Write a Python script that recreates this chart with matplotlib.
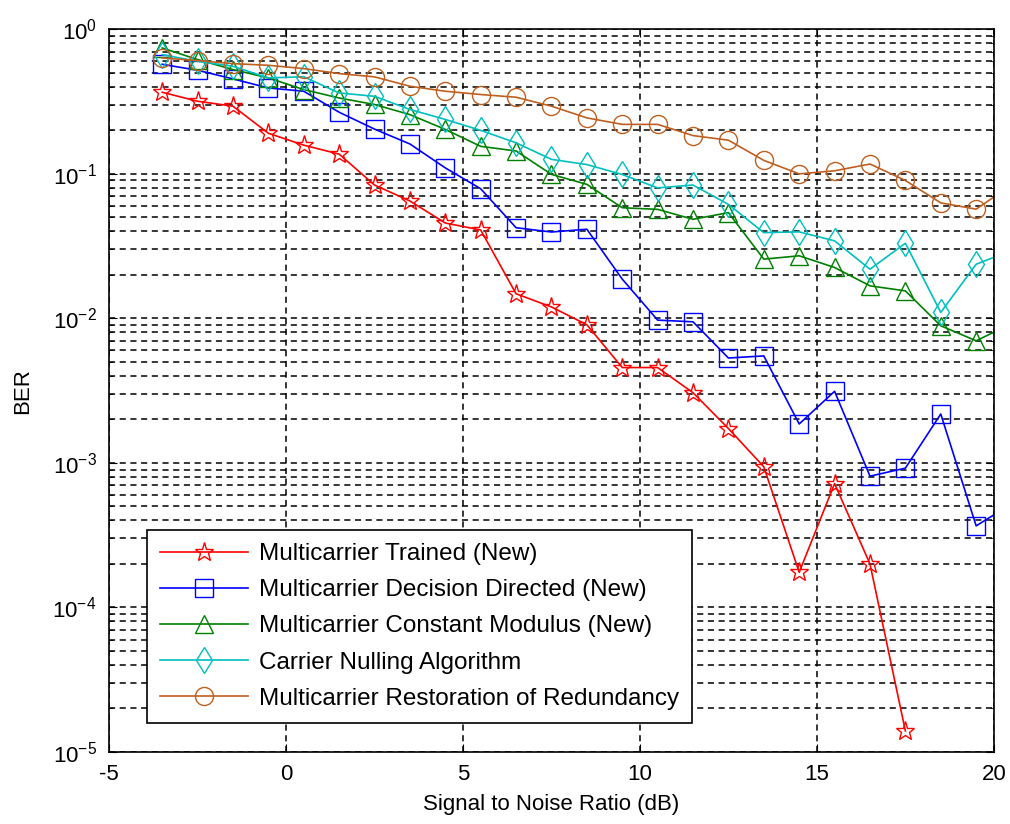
import numpy as np
import matplotlib.pyplot as plt
from matplotlib.ticker import LogLocator, NullFormatter

plt.rcParams['font.family'] = ['Liberation Sans', 'DejaVu Sans']
plt.rcParams['axes.unicode_minus'] = False

# SNR points (dB)
snr = [-3.5, -2.5, -1.5, -0.5, 0.5, 1.5, 2.5, 3.5, 4.5, 5.5, 6.5, 7.5, 8.5,
       9.5, 10.5, 11.5, 12.5, 13.5, 14.5, 15.5, 16.5, 17.5, 18.5, 19.5, 20.5]

# BER curves
ber_trained = [0.367, 0.318, 0.294, 0.191, 0.158, 0.137, 0.0837, 0.0649, 0.0457,
               0.0409, 0.0148, 0.0120, 0.00904, 0.00457, 0.00457, 0.00306,
               0.00173, 9.4e-4, 1.75e-4, 7.2e-4, 2.0e-4, 1.4e-5]
ber_dd = [0.573, 0.521, 0.454, 0.393, 0.373, 0.267, 0.204, 0.161, 0.110, 0.0789,
          0.0424, 0.0396, 0.0414, 0.0187, 0.00973, 0.00947, 0.00532, 0.0055,
          0.00186, 0.00313, 8.1e-4, 9.2e-4, 0.00218, 3.67e-4, 5.2e-4]
ber_cm = [0.743, 0.618, 0.527, 0.461, 0.383, 0.335, 0.302, 0.257, 0.203, 0.155,
          0.144, 0.0992, 0.0846, 0.0583, 0.0568, 0.0485, 0.0539, 0.0257, 0.0271,
          0.0225, 0.0168, 0.0155, 0.00889, 0.0070, 0.0092]
ber_cn = [0.668, 0.601, 0.555, 0.461, 0.47, 0.363, 0.344, 0.279, 0.238, 0.200,
          0.164, 0.126, 0.116, 0.099, 0.080, 0.0837, 0.0615, 0.0392, 0.0397,
          0.0344, 0.0219, 0.0331, 0.011, 0.0237, 0.0295]
ber_rr = [0.634, 0.608, 0.579, 0.564, 0.535, 0.494, 0.469, 0.404, 0.373, 0.354,
          0.339, 0.294, 0.244, 0.220, 0.220, 0.184, 0.171, 0.124, 0.100, 0.105,
          0.117, 0.090, 0.063, 0.057, 0.0837]

labels = ['Multicarrier Trained (New)',
          'Multicarrier Decision Directed (New)',
          'Multicarrier Constant Modulus (New)',
          'Carrier Nulling Algorithm',
          'Multicarrier Restoration of Redundancy']

fig = plt.figure(figsize=(10.10, 8.24), dpi=100)
ax = fig.add_axes([0.108, 0.0874, 0.876, 0.877])

ax.semilogy(snr[:len(ber_trained)], ber_trained, color='#ff0000', marker='*',
            ms=14, mfc='none', lw=1.2, label=labels[0])
ax.semilogy(snr, ber_dd, color='#0000ff', marker='s', ms=13, mfc='none', lw=1.2,
            label=labels[1])
ax.semilogy(snr, ber_cm, color='#008000', marker='^', ms=13, mfc='none', lw=1.2,
            label=labels[2])
ax.semilogy(snr, ber_cn, color='#00bfbf', marker='d', ms=13, mfc='none', lw=1.2,
            label=labels[3])
ax.semilogy(snr, ber_rr, color='#bf5f1f', marker='o', ms=13, mfc='none', lw=1.2,
            label=labels[4])

ax.set_xlim(-5, 20)
ax.set_ylim(1e-5, 1)
ax.set_xticks([-5, 0, 5, 10, 15, 20])
ax.set_xticklabels(['-5', '0', '5', '10', '15', '20'])
ax.yaxis.set_major_locator(LogLocator(base=10, numticks=10))
ax.yaxis.set_minor_locator(LogLocator(base=10, subs=np.arange(2, 10), numticks=10))
ax.yaxis.set_minor_formatter(NullFormatter())

ax.grid(True, which='major', axis='both', color='black', ls=(0, (4, 3)), lw=1.1)
ax.grid(True, which='minor', axis='y', color='black', ls=(0, (4, 3)), lw=1.1)
ax.tick_params(which='both', direction='in', top=True, right=True, labelsize=16)
ax.tick_params(which='major', length=6, pad=9)
ax.tick_params(which='minor', length=3)
for s in ax.spines.values():
    s.set_linewidth(1.2)

ax.set_xlabel('Signal to Noise Ratio (dB)', fontsize=16, labelpad=6)
ax.set_ylabel('BER', fontsize=16, labelpad=14)

leg = ax.legend(loc='lower left', bbox_to_anchor=(0.043, 0.04), fontsize=17.5,
                fancybox=False, framealpha=1, edgecolor='black',
                handlelength=3.6, handletextpad=0.45, borderpad=0.55,
                labelspacing=0.58, borderaxespad=0)
leg.get_frame().set_linewidth(1.2)

fig.savefig('out.png', dpi=100)
